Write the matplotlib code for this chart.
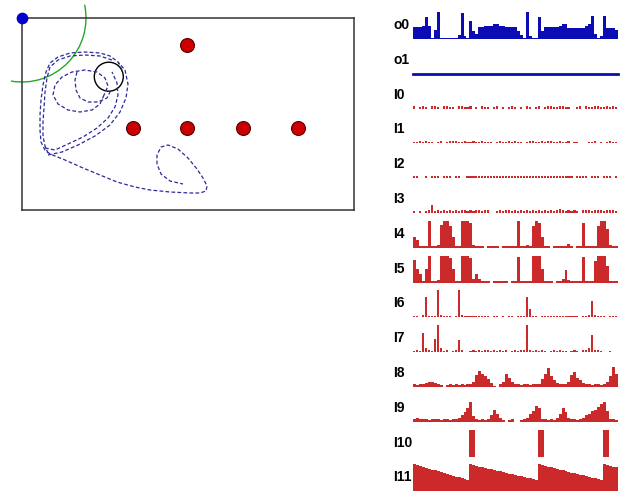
import matplotlib
matplotlib.use("Agg")
import matplotlib.pyplot as plt
import matplotlib.patches as patches
import numpy as np

# ---- arena (left panel), units = pixels of the arena box ----
arena_w, arena_h = 332, 192
robot = (0, 0)
sensor_radius = 64
body = (86.8, 58.7)
body_radius = 14.5
lights_x = [165, 111, 165, 221, 276]
lights_y = [27, 110, 110, 110, 110]

# trajectory pieces (x, y)
path1_x = [100, 96, 88, 78, 63, 48, 36, 28, 24, 21, 19, 18, 18, 19, 23, 28, 43, 61, 78, 95,
           113, 128, 148, 168, 178, 184, 185, 181, 175, 166, 156, 146, 139, 135, 135, 139, 148, 161]
path1_y = [52, 44, 38, 35, 34, 35, 39, 45, 54, 67, 82, 97, 112, 124, 132, 136, 142, 150, 157, 164,
           169, 172, 174, 175, 175, 173, 168, 160, 151, 140, 131, 127, 129, 137, 146, 156, 163, 166]
path2_x = [90, 78, 63, 48, 36, 28, 25, 23, 22, 21, 21, 23, 26]
path2_y = [42, 38, 37, 38, 42, 49, 60, 74, 90, 104, 118, 128, 135]
path3_x = [23, 33, 46, 61, 75, 86, 93, 96, 95, 90]
path3_y = [130, 132, 126, 119, 110, 100, 89, 77, 65, 54]
path4_x = [26, 40, 56, 73, 88, 98, 104, 106, 103, 96]
path4_y = [137, 134, 127, 118, 107, 94, 80, 66, 52, 44]
path5_x = [82, 78, 70, 58, 46, 36, 31, 33, 40, 50, 63, 75, 83, 86, 82]
path5_y = [77, 86, 92, 94, 92, 86, 77, 67, 59, 54, 52, 54, 60, 68, 77]
path6_x = [55, 53, 54, 58, 66, 76, 85, 88]
path6_y = [54, 62, 72, 80, 84, 84, 80, 74]

# ---- signal rows (right panel), heights on a 0..10 scale ----
labels = ["o0", "o1", "I0", "I1", "I2", "I3", "I4", "I5", "I6", "I7", "I8", "I9", "I10", "I11"]

o0 = [4.5, 4.5, 4.5, 5, 8, 5, 0.5, 3.5, 10, 0.5, 0.5, 0.5, 0.5, 0.5, 0.5, 1.5, 9.5, 1, 0.5, 6.5,
      3, 2, 4.5, 4.5, 5, 5, 5, 5.5, 5.5, 5, 5, 4.5, 4.5, 4.5, 4.5, 3, 1.5, 0.5, 10, 1,
      0.5, 0.5, 8, 3, 4.5, 4.5, 4.5, 4.5, 4.5, 5, 5.5, 5.5, 4, 4, 4, 4, 4, 4, 5, 5.5,
      8.5, 2, 0.5, 1, 8.5, 4, 4, 4, 3.5]
o1 = [0] * 69
I0 = [1, 0, 0.7, 1, 0.7, 0, 1, 0.8, 0.7, 0, 0.8, 1, 0.7, 0.7, 0, 1, 0.8, 0.7, 0.7, 0.8,
      0, 0.7, 0, 0.8, 0.7, 0.7, 0, 0.7, 0.8, 0, 0.7, 0, 0.7, 0.8, 0.7, 0, 0.7, 0, 0.8, 0.7,
      0, 0.7, 0.8, 0, 0.7, 0.8, 1, 0.7, 0.7, 0.8, 1, 0.7, 0.7, 0, 0, 0.7, 0.8, 0, 0.8, 0.7,
      0.7, 0.8, 1, 0.7, 0.7, 0.8, 0.7, 1, 0.7]
I1 = [0.7, 0.7, 0.8, 0.7, 1, 0.7, 0.7, 0, 0.7, 0.8, 0, 0.7, 1, 1, 0.8, 0.7, 0.7, 0.8, 0.7, 0.7,
      1, 0.7, 0.7, 0.8, 0.7, 0.7, 0.7, 0, 0.7, 0.8, 0.7, 0.7, 0.8, 0.7, 1, 0.7, 0.7, 0, 0.7, 1,
      0.8, 0.7, 0.7, 0.8, 0.7, 1, 0.8, 0.7, 0.7, 0.8, 0.7, 0.7, 0.8, 0, 0.7, 0.7, 0, 0, 0, 0.7,
      0.7, 0.8, 0, 0.7, 0, 0.7, 0.8, 0.7, 0.7]
I2 = [0.7, 0.7, 0, 0, 0.7, 0, 0.7, 0.8, 0.7, 0, 0.8, 0.7, 1, 0, 0.7, 0.7, 0, 0, 1, 0.8,
      0.7, 0.7, 0.8, 0.7, 0.7, 0.8, 0.7, 1, 0.7, 0.8, 0.7, 0.7, 0.8, 0.7, 0.7, 1, 0.7, 0.8, 0.7, 0.7,
      0.8, 0.7, 0.7, 0.7, 0.8, 0.7, 1, 0.8, 1, 0.7, 1, 0.8, 1, 0.7, 0, 0.7, 0.8, 0.7, 0.7, 0, 0.7, 0.8,
      0.7, 0, 0.7, 0.8, 0.7, 0, 0.7]
I3 = [0.7, 0, 0.7, 0, 0.8, 1, 3, 0.8, 1, 0.7, 1.2, 0.8, 1, 0.7, 1, 0.8, 1.2, 1, 0.8, 1,
      0.7, 1, 1.2, 0.8, 1, 1, 0, 0, 0.7, 1, 0.8, 1.2, 1, 0.8, 1, 0.7, 1, 0.8, 1, 0.8,
      1, 0.7, 1, 0.8, 1, 0.7, 1, 0.8, 1.2, 1.5, 1, 0.8, 1, 0.7, 1, 0.8, 0, 1.2, 1, 1,
      0.8, 1.2, 1, 1, 0.8, 1, 1.2, 1, 0.8]
I4 = [4, 3, 0.5, 0.7, 0.5, 10, 0.7, 0.5, 1, 8.5, 10, 10, 8, 4, 0.5, 0.7, 10, 10, 10, 9,
      1, 0.7, 0.5, 0.8, 0, 0.7, 0.5, 0.8, 0.7, 0, 0.7, 0.8, 0.5, 0.7, 0.8, 10, 0.7, 0.5, 1, 0.7,
      8, 10, 9, 4, 0.7, 0.5, 0, 0.7, 0.5, 0.8, 0.5, 0.7, 1.5, 0.5, 0, 0.7, 0.5, 9, 0.5, 0.7,
      0.5, 0.8, 8, 10, 10, 7, 1, 0.5, 0.7]
I5 = [8.5, 5, 3, 0.5, 5, 10, 0.5, 0.7, 1, 10, 10, 10, 9, 5, 0.7, 0.5, 10, 10, 10, 9,
      1.5, 3, 1.5, 0.5, 0.7, 0.5, 0, 0.5, 0.7, 0.5, 0.5, 0.7, 0, 0.7, 0.7, 9.5, 0.5, 0.7, 0.5, 0.7,
      10, 10, 10, 5, 0.7, 0.5, 0.7, 0, 0.5, 0.7, 1.5, 4.5, 1, 0.5, 0.7, 0.5, 0.5, 9.5, 0.5, 0.7,
      0.5, 8, 10, 10, 10, 6, 0.7, 0.5, 0.7]
I6 = [0.5, 0.7, 0, 1, 7.5, 0.5, 0.7, 0.7, 10, 1, 0.5, 0.7, 0.5, 0, 0.7, 10, 1, 0.5, 0.7, 0.5,
      0.7, 0.5, 0.7, 0.5, 0.7, 0.5, 0, 0.7, 0.5, 0, 0.7, 0, 0.5, 0.7, 0, 0.5, 0.7, 0.7, 7.5, 3,
      0.7, 0.5, 0, 0.7, 0.5, 0.7, 0.5, 0.7, 0.5, 0.7, 0.5, 0.7, 0.5, 0.7, 0.5, 0.7, 0, 0.5, 0.7, 1,
      6, 1, 0.7, 0.5, 0.7, 0, 0.5, 0.7, 0.5]
I7 = [0.5, 0.7, 0.5, 7, 1.5, 0.7, 0.5, 5, 10, 1.5, 0.5, 0.7, 0, 0.5, 0.7, 4.5, 0.7, 0, 0, 0.5,
      0.7, 0.5, 0.7, 0.5, 1, 0.7, 0.5, 0.7, 0.5, 0.7, 0.5, 0.7, 0, 0.5, 0.7, 0.5, 0.7, 1, 10, 0.7,
      0.5, 0.7, 0.5, 0.7, 0.5, 0, 0.5, 0.7, 0.5, 0.7, 0.5, 0.5, 0, 0.5, 0.7, 0.5, 0, 0.7, 1, 1.5,
      6.5, 1, 0.7, 0.5, 0, 0, 0.5, 0, 0]
I8 = [1, 0.8, 1, 1.2, 1.5, 2, 2, 1.5, 1, 0.8, 0, 0.8, 1, 0.8, 1, 0.8, 1, 0.8, 1, 1,
      2, 4.5, 6, 5, 4, 3, 1.5, 0.5, 0, 1, 2, 5, 3.5, 2, 1, 1, 0.8, 1, 1, 0.8,
      1, 1, 1, 3, 5, 7, 4, 2.5, 1.5, 1, 1, 1, 2, 4.5, 5.5, 3.5, 2.5, 1.5, 1, 1,
      0.8, 1, 1, 0.8, 1, 2, 4, 7.5, 5]
I9 = [1, 1.5, 1.2, 1, 1, 0.8, 1, 1, 1, 0.8, 1, 1, 0.8, 1, 1, 1.5, 2.5, 3.5, 5, 7.5,
      2, 1, 0.8, 1, 0.8, 1, 2.5, 4.5, 3, 1.5, 0.8, 0, 0.8, 1, 0, 0, 0.8, 1, 1.5, 3,
      4, 6, 5, 1, 1, 0.8, 1, 0.8, 1.5, 3, 5, 3.5, 1.5, 1, 1, 0.8, 1, 1.5, 2.5, 3,
      4, 4.5, 5.5, 6.5, 7.5, 4, 1, 1, 0.8]
I10 = [0, 0, 0, 0, 0, 0, 0, 0, 0, 0, 0, 0, 0, 0, 0, 0, 0, 0, 0, 10,
       10, 0, 0, 0, 0, 0, 0, 0, 0, 0, 0, 0, 0, 0, 0, 0, 0, 0, 0, 0,
       0, 0, 10, 10, 0, 0, 0, 0, 0, 0, 0, 0, 0, 0, 0, 0, 0, 0, 0, 0,
       0, 0, 0, 0, 10, 10, 0, 0, 0]
I11 = [10, 9.7, 9.4, 9, 8.7, 8.4, 8.1, 7.8, 7.4, 7.1, 6.8, 6.5, 6.2, 5.8, 5.5, 5.2, 4.9, 4.6, 4.2,
       10, 9.7, 9.5, 9.2, 9, 8.7, 8.4, 8.2, 7.9, 7.7, 7.4, 7.1, 6.9, 6.6, 6.4, 6.1, 5.8, 5.6, 5.3,
       5.1, 4.8, 4.5, 4.2,
       10, 9.7, 9.5, 9.2, 8.9, 8.6, 8.4, 8.1, 7.8, 7.5, 7.3, 7, 6.7, 6.4, 6.2, 5.9, 5.6, 5.3,
       5.1, 4.8, 4.5, 4.2,
       10, 9.7, 9.5, 9.2, 8.9]
rows = [o0, o1, I0, I1, I2, I3, I4, I5, I6, I7, I8, I9, I10, I11]

blue = "#0c0cb4"
red = "#cc2a2a"
traj = "#2a2a9a"

W, H = 621, 491
fig = plt.figure(figsize=(W / 100, H / 100), dpi=100)

# left panel
ax = fig.add_axes([22 / W, (H - 210) / H, 332 / W, 192 / H])
ax.set_xlim(0, arena_w)
ax.set_ylim(arena_h, 0)
ax.set_xticks([])
ax.set_yticks([])
for s in ax.spines.values():
    s.set_color("#333333")
    s.set_linewidth(1.1)

for px, py in [(path1_x, path1_y), (path2_x, path2_y), (path3_x, path3_y),
               (path4_x, path4_y), (path5_x, path5_y), (path6_x, path6_y)]:
    ax.plot(px, py, color=traj, lw=0.9, ls=(0, (3, 1.8)))

ax.add_patch(patches.Circle(body, body_radius, fill=False, ec="black", lw=1))
ax.add_patch(patches.Arc(robot, 2 * sensor_radius, 2 * sensor_radius, theta1=-12, theta2=100,
                         color="#22aa22", lw=1, clip_on=False))
ax.scatter(lights_x, lights_y, s=100, color="#cc0000", edgecolor="#550000", lw=0.8, zorder=3)
ax.scatter([robot[0]], [robot[1]], s=55, color="#0000cc", zorder=4, clip_on=False)

# right panel
t = np.arange(len(o0))
thin_rows = ("I0", "I1", "I2", "I3", "I6", "I7")
for k, (name, vals) in enumerate(zip(labels, rows)):
    base = 39 + 34.8 * k
    a = fig.add_axes([413 / W, (H - base) / H, 205 / W, 27 / H])
    a.set_xlim(0, len(t))
    a.set_ylim(0, 1)
    a.axis("off")
    v = np.array(vals) / 10
    if name == "o1":
        a.step(np.append(t, len(t)), np.append(v, v[-1]), where="post",
               color=blue, lw=2, clip_on=False)
    elif name == "o0":
        a.bar(t, v, width=1.0, align="edge", color=blue, lw=0)
    elif name in thin_rows:
        a.bar(t, v, width=0.7, align="edge", color=red, lw=0)
    else:
        a.bar(t, v, width=1.0, align="edge", color=red, lw=0)
    fig.text(393 / W, (H - (base - 14)) / H, name, ha="left", va="center",
             fontsize=10, fontweight="bold", family="Liberation Sans")

fig.savefig("out.png", dpi=100)
plt.close(fig)
